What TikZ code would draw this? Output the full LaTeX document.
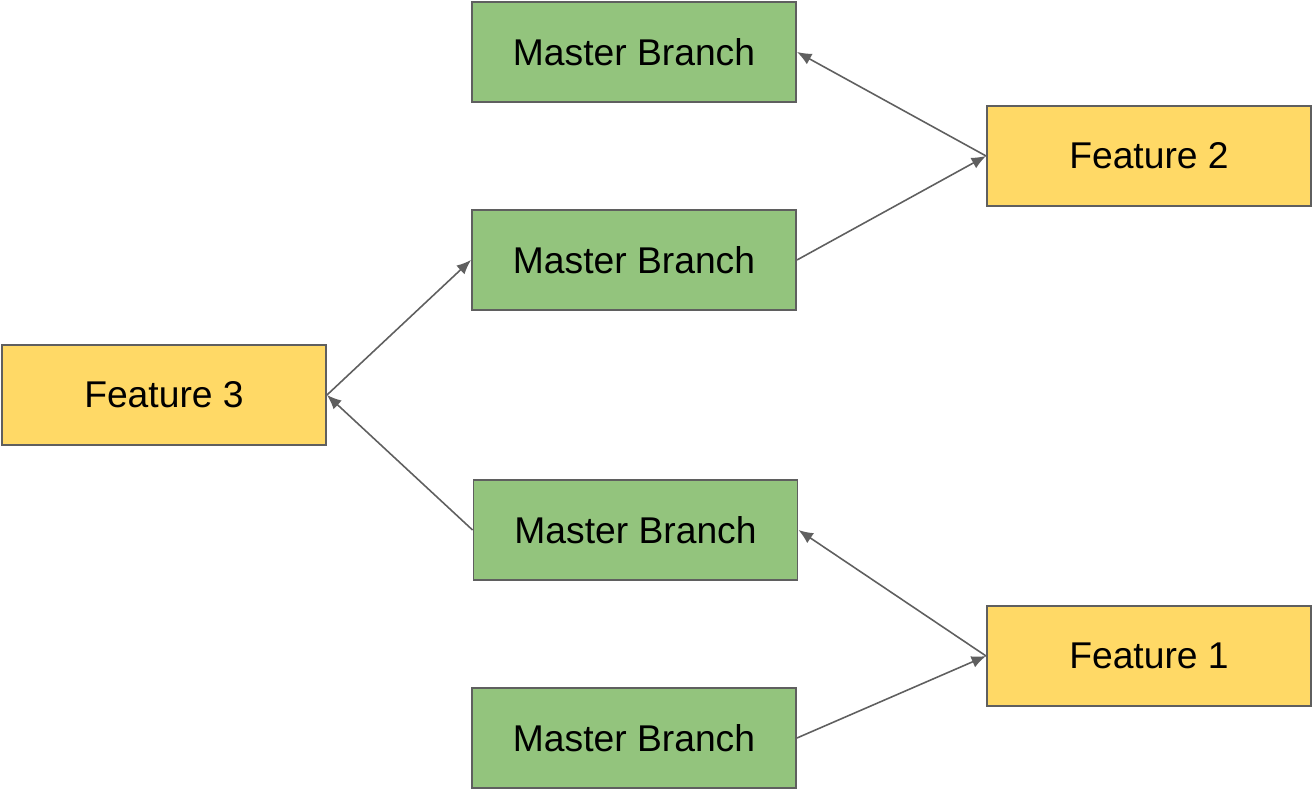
\documentclass[tikz,border=0pt]{standalone}
\usepackage{fontspec}
\setmainfont{Liberation Sans}
\usetikzlibrary{arrows.meta}

\definecolor{masterfill}{HTML}{93C47D}
\definecolor{featurefill}{HTML}{FFD966}
\definecolor{boxline}{HTML}{5F5F5F}

\begin{document}
\begin{tikzpicture}[
    branchbox/.style={draw=boxline, line width=1.1pt, minimum width=6.48cm, minimum height=2cm, inner sep=0pt, font=\fontsize{21.2}{25}\selectfont},
    masterbox/.style={branchbox, fill=masterfill},
    featurebox/.style={branchbox, fill=featurefill},
    merge/.style={-{Latex[length=2.9mm,width=2.4mm]}, boxline, line width=0.9pt}
  ]
    \useasboundingbox (0,0) rectangle (26.24,15.8);

    \node[masterbox] (master1) at (12.68, 14.76) {Master Branch};
    \node[masterbox] (master2) at (12.68, 10.6) {Master Branch};
    \node[masterbox] (master3) at (12.71, 5.2) {Master Branch};
    \node[masterbox] (master4) at (12.68, 1.04) {Master Branch};

    \node[featurebox] (feature2) at (22.98, 12.68) {Feature 2};
    \node[featurebox] (feature3) at (3.28, 7.9) {Feature 3};
    \node[featurebox] (feature1) at (22.98, 2.68) {Feature 1};

    \draw[merge] (feature2.west) -- (master1.east);
    \draw[merge] (master2.east) -- (feature2.west);
    \draw[merge] (feature3.east) -- (master2.west);
    \draw[merge] (master3.west) -- (feature3.east);
    \draw[merge] (feature1.west) -- (master3.east);
    \draw[merge] (master4.east) -- (feature1.west);
\end{tikzpicture}
\end{document}
